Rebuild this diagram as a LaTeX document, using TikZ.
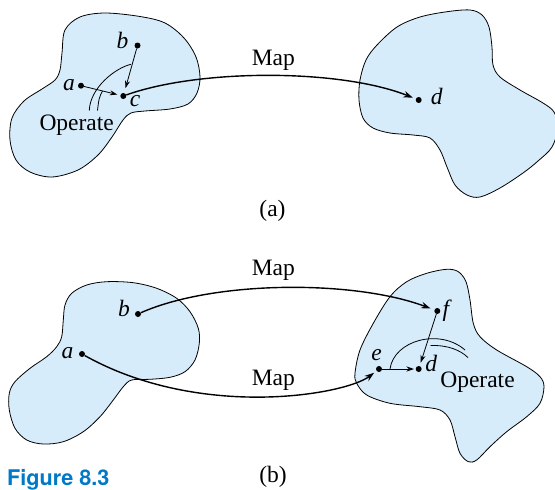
\documentclass[tikz,border=0pt]{standalone}
\usepackage{fontspec}
\setmainfont{Liberation Serif}
\newfontfamily\figfont{TeX Gyre Heros}
\usetikzlibrary{arrows.meta}
\definecolor{blobfill}{RGB}{214,236,250}
\definecolor{figblue}{RGB}{0,122,200}
\begin{document}
\begin{tikzpicture}[x=1pt,y=-1pt,
  blob/.style={draw=black, line width=0.8pt, fill=blobfill},
  dot/.style={circle, fill=black, inner sep=0pt, minimum size=6pt},
  lbl/.style={font=\fontsize{23.5}{28}\selectfont\itshape, anchor=base, inner sep=0pt},
  txt/.style={font=\fontsize{23.5}{28}\selectfont, anchor=base, inner sep=0pt},
  maparrow/.style={line width=1.4pt, -{Stealth[length=9.5pt,width=6.5pt]}},
  oparrow/.style={line width=0.8pt, -{Stealth[length=7.5pt,width=5pt]}},
  oparc/.style={line width=0.8pt},
]
\useasboundingbox (0,0) rectangle (555,490);
% blobs
\draw[blob] plot[smooth cycle, tension=0.55] coordinates {(62,53) (65,30) (80,17) (105,13) (140,16.5) (165,23) (184,38) (196,57) (200,77) (197,93) (188,104) (170,109) (145,111) (131,113) (123,120) (112,137) (98,155) (78,170) (52,177) (30,172) (16,160) (10,140) (12,118) (24,101) (42,89) (55,80) (60,70)};
\draw[blob] plot[smooth cycle, tension=0.55] coordinates {(360,80) (366,60) (377,45) (397,27) (420,17) (447,11.7) (470,10) (482,15) (489,27) (492,47) (493,65) (500,77) (520,90) (543,103) (554,112) (558,127) (552,147) (538,161) (523,173) (500,188) (480,197) (467,195) (455,185) (447,167) (440,150) (430,138) (413,135) (390,133) (373,128) (363,118) (359,100)};
\draw[blob] plot[smooth cycle, tension=0.55] coordinates {(61.7,336.7) (63.3,320) (65,305) (71.7,293.3) (86.7,285) (106.7,281.7) (133.3,282.7) (156.7,288.3) (176.7,298.3) (190,311.7) (198.3,328.3) (199.3,343.3) (195,360) (185,371.7) (170,377.3) (150,379.3) (131.7,380) (123.3,386.7) (113.3,400) (100,416.7) (83.3,431.7) (63.3,441.7) (43.3,444) (26.7,440) (15,428.3) (9.3,410) (9.3,393.3) (15,381.7) (30,368.3) (46.7,356.7) (56.7,346.7)};
\draw[blob] plot[smooth cycle, tension=0.55] coordinates {(355,373.3) (360,350) (373.3,323.3) (390,296.7) (406.7,281.7) (426.7,273.3) (446.7,269.3) (458.3,271.7) (466,281.7) (470,300) (473.3,323.3) (480,336.7) (496.7,350) (526.7,366.7) (540,376.7) (544,386.7) (540,403.3) (526.7,416.7) (506.7,431.7) (490,446.7) (476.7,460) (468.3,461.7) (460,453.3) (455,436.7) (450,420) (440,410) (420,406.7) (390,403.3) (366.7,395) (356.7,383.3)};
% dots
\node[dot] (a1) at (81,85.7) {};
\node[dot] (b1) at (137.5,45.5) {};
\node[dot] (c1) at (123.3,96) {};
\node[dot] (d1) at (418.7,100) {};
\node[dot] (a2) at (82,354) {};
\node[dot] (b2) at (138,314) {};
\node[dot] (f2) at (437.3,311) {};
\node[dot] (e2) at (379,369) {};
\node[dot] (d2) at (418.7,369) {};
% map connectors
\draw[maparrow, shorten >=3pt] (c1) .. controls (200,68.7) and (340,68.7) .. (d1);
\draw[maparrow, shorten >=4pt] (b2) .. controls (215,280) and (355,280) .. (f2);
\draw[maparrow, shorten >=3pt] (a2) .. controls (200,420) and (345,395) .. (e2);
% operate arrows
\draw[oparrow, shorten >=3pt] (a1) -- (c1);
\draw[oparrow, shorten >=5pt] (b1) -- (c1);
\draw[oparrow, shorten >=1.5pt] (e2) -- (d2);
\draw[oparrow, shorten >=3.5pt] (f2) -- (d2);
% operate arcs
\draw[oparc] (131,64.3) .. controls (115,68) and (90,88) .. (89.3,110.5);
\draw[oparc] (102.5,91) .. controls (99,98) .. (97.5,110.5);
\draw[oparc] (390,369) .. controls (394,340) and (440,328) .. (465,350);
\draw[oparc] (430.5,345.5) .. controls (448,345) and (460,350) .. (468,357.5);
% labels
\node[lbl] (la1) at (69,90) {a};
\node[lbl] (lb1) at (122.5,48.3) {b};
\node[lbl] (lc1) at (135,106.7) {c};
\node[lbl] (ld1) at (436.7,104) {d};
\node[txt] (op1) at (76.7,130) {Operate};
\node[txt] (map1) at (273.3,65) {Map};
\node[txt] (capa) at (272.5,216.7) {(a)};
\node[lbl] (la2) at (67.5,358.3) {a};
\node[lbl] (lb2) at (124,316.7) {b};
\node[lbl] (lf2) at (446,316) {f};
\node[lbl] (le2) at (376.7,360) {e};
\node[lbl] (ld2) at (431.3,371) {d};
\node[txt] (op2) at (477.5,387) {Operate};
\node[txt] (map2) at (273.3,275) {Map};
\node[txt] (map3) at (273.3,385) {Map};
\node[txt] (capb) at (273,482) {(b)};
\node[anchor=base west, inner sep=0pt, text=figblue, font=\figfont\bfseries\fontsize{21.6}{26}\selectfont] (fig) at (7,485) {Figure 8.3};
\end{tikzpicture}
\end{document}
